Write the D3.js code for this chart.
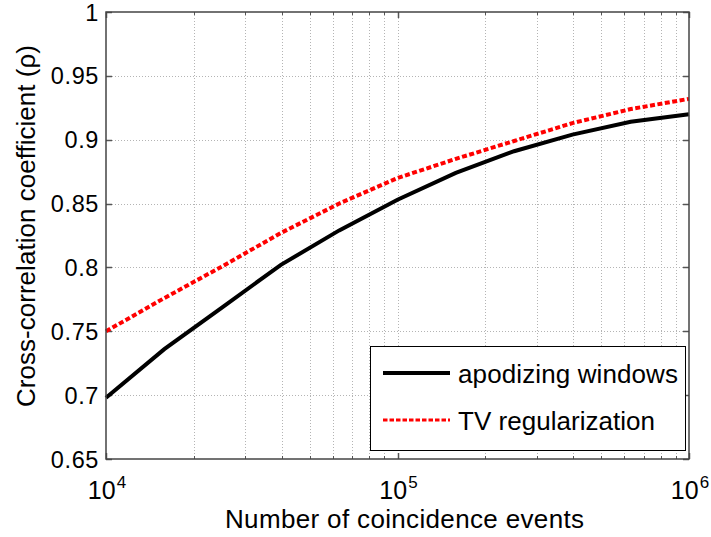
<!DOCTYPE html>
<html><head><meta charset="utf-8">
<script src="https://cdn.jsdelivr.net/npm/d3@7"></script>
<style>body{margin:0;background:#fff}svg{display:block}text{font-family:"Liberation Sans",Arial,sans-serif;fill:#000}</style>
</head><body><svg id="c" width="711" height="537"></svg>
<script>
const events = [1e4, 1.585e4, 2.512e4, 3.981e4, 6.31e4, 1e5, 1.585e5, 2.512e5, 3.981e5, 6.31e5, 1e6];
const apodizing = [0.698, 0.736, 0.769, 0.802, 0.829, 0.853, 0.874, 0.891, 0.904, 0.914, 0.920];
const tvReg = [0.750, 0.776, 0.801, 0.827, 0.850, 0.870, 0.885, 0.899, 0.913, 0.924, 0.932];
const yTicks = [0.65, 0.7, 0.75, 0.8, 0.85, 0.9, 0.95, 1];
const yTickLabels = ["0.65", "0.7", "0.75", "0.8", "0.85", "0.9", "0.95", "1"];
const xTicks = [1e4, 1e5, 1e6];
const xExps = ["4", "5", "6"];
const seriesNames = ["apodizing windows", "TV regularization"];

const L = 106, R = 689, T = 12, B = 459;
const svg = d3.select("#c");
const x = d3.scaleLog().domain([1e4, 1e6]).range([L, R]);
const y = d3.scaleLinear().domain([0.65, 1]).range([B, T]);

const minor = [];
for (let d = 1e4; d < 1e6; d *= 10) for (let k = 2; k <= 9; k++) minor.push(d * k);

const g = svg.append("g");
// grid
const gridX = minor.concat([1e5]);
g.selectAll(".gx").data(gridX).join("line")
  .attr("x1", d => Math.round(x(d)) + 0.5).attr("x2", d => Math.round(x(d)) + 0.5)
  .attr("y1", T).attr("y2", B).attr("stroke", "#b4b4b4").attr("stroke-width", 1).attr("stroke-dasharray", "1,2");
g.selectAll(".gy").data(yTicks.slice(1, -1)).join("line")
  .attr("y1", d => Math.round(y(d)) + 0.5).attr("y2", d => Math.round(y(d)) + 0.5)
  .attr("x1", L).attr("x2", R).attr("stroke", "#b4b4b4").attr("stroke-width", 1).attr("stroke-dasharray", "1,2");

// ticks (inside)
const tickCol = "#555";
yTicks.forEach(v => {
  const yy = Math.round(y(v)) + 0.5;
  g.append("line").attr("x1", L).attr("x2", L + 6).attr("y1", yy).attr("y2", yy).attr("stroke", tickCol).attr("stroke-width", 1.5);
  g.append("line").attr("x1", R).attr("x2", R - 6).attr("y1", yy).attr("y2", yy).attr("stroke", tickCol).attr("stroke-width", 1.5);
});
xTicks.forEach(v => {
  const xx = Math.round(x(v)) + 0.5;
  g.append("line").attr("x1", xx).attr("x2", xx).attr("y1", B).attr("y2", B - 6).attr("stroke", tickCol).attr("stroke-width", 1.5);
  g.append("line").attr("x1", xx).attr("x2", xx).attr("y1", T).attr("y2", T + 6).attr("stroke", tickCol).attr("stroke-width", 1.5);
});
minor.forEach(v => {
  const xx = Math.round(x(v)) + 0.5;
  g.append("line").attr("x1", xx).attr("x2", xx).attr("y1", B).attr("y2", B - 3).attr("stroke", tickCol).attr("stroke-width", 1);
  g.append("line").attr("x1", xx).attr("x2", xx).attr("y1", T).attr("y2", T + 3).attr("stroke", tickCol).attr("stroke-width", 1);
});

// lines
const line = d3.line().x((d, i) => x(events[i])).y(d => y(d));
g.append("path").datum(apodizing).attr("d", line).attr("fill", "none").attr("stroke", "#000").attr("stroke-width", 4);
g.append("path").datum(tvReg).attr("d", line).attr("fill", "none").attr("stroke", "#ff0000").attr("stroke-width", 4).attr("stroke-dasharray", "5,2.5");

// frame
g.append("rect").attr("x", L).attr("y", T).attr("width", R - L).attr("height", B - T)
  .attr("fill", "none").attr("stroke", "#444").attr("stroke-width", 1.5);

// y tick labels
g.selectAll(".yl").data(yTicks).join("text")
  .attr("x", 99).attr("y", d => y(d) + 8.5).attr("text-anchor", "end")
  .attr("font-size", 23.5).attr("letter-spacing", 0.6).text((d, i) => yTickLabels[i]);

// x tick labels
xTicks.forEach((v, i) => {
  const t = g.append("text").attr("x", x(v) + 1).attr("y", 499).attr("text-anchor", "middle").attr("font-size", 25);
  t.append("tspan").text("10");
  t.append("tspan").attr("dy", -11).attr("dx", 1).attr("font-size", 17).text(xExps[i]);
});

// axis labels
g.append("text").attr("x", 404.5).attr("y", 528).attr("text-anchor", "middle").attr("font-size", 26)
  .attr("textLength", 359).attr("lengthAdjust", "spacing")
  .text("Number of coincidence events");
g.append("text").attr("transform", "translate(35,226) rotate(-90)").attr("text-anchor", "middle").attr("font-size", 26)
  .attr("textLength", 362).attr("lengthAdjust", "spacing")
  .text("Cross-correlation coefficient (ρ)");

// legend
const lg = g.append("g");
lg.append("rect").attr("x", 370.5).attr("y", 346.5).attr("width", 315).attr("height", 104)
  .attr("fill", "#fff").attr("stroke", "#000").attr("stroke-width", 1);
const rows = [{c: "#000", dash: null, y: 373, len: 220}, {c: "#ff0000", dash: "4.5,2", y: 420, len: 197}];
rows.forEach((r, i) => {
  lg.append("line").attr("x1", 383).attr("x2", 450).attr("y1", r.y).attr("y2", r.y)
    .attr("stroke", r.c).attr("stroke-width", i === 0 ? 4 : 3).attr("stroke-dasharray", r.dash);
  lg.append("text").attr("x", 458).attr("y", r.y + 10).attr("font-size", 26)
    .attr("textLength", r.len).attr("lengthAdjust", "spacing").text(seriesNames[i]);
});
</script></body></html>
